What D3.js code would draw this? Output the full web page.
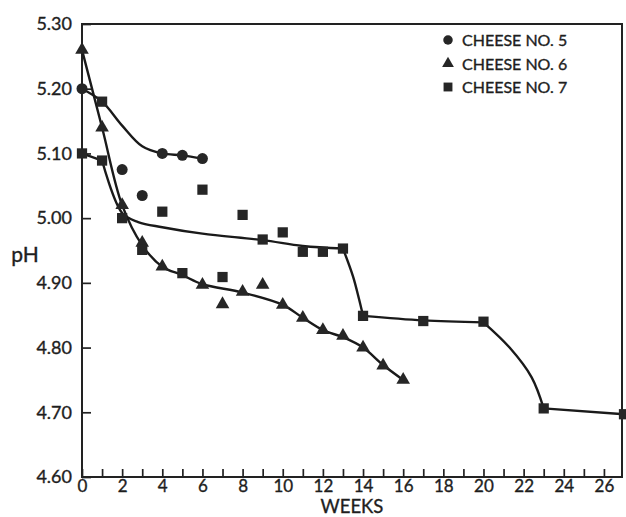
<!DOCTYPE html>
<html>
<head>
<meta charset="utf-8">
<script src="https://cdn.jsdelivr.net/npm/d3@7"></script>
<style>
  body { margin: 0; background: #fff; }
  text { font-family: Lato, "DejaVu Sans", sans-serif; fill: #1e1e1e; stroke: #1e1e1e; stroke-width: 0.35px; }
</style>
</head>
<body>
<script>
// weeks on x, pH on y
const weekTicks = d3.range(0, 27);
const phTicks = [4.60, 4.70, 4.80, 4.90, 5.00, 5.10, 5.20, 5.30];

// measured points
const cheese5 = [[0, 5.20], [2, 5.075], [3, 5.035], [4, 5.10], [5, 5.097], [6, 5.092]];
const cheese6 = [
  [0, 5.26], [1, 5.14], [2, 5.02], [3, 4.962], [4, 4.925], [6, 4.897], [7, 4.867],
  [8, 4.886], [9, 4.897], [10, 4.866], [11, 4.846], [12, 4.827], [13, 4.818],
  [14, 4.80], [15, 4.772], [16, 4.75]
];
const cheese7 = [
  [0, 5.10], [1, 5.18], [1, 5.089], [2, 5.00], [3, 4.951], [4, 5.01], [5, 4.915],
  [6, 5.044], [7, 4.909], [8, 5.005], [9, 4.967], [10, 4.978], [11, 4.948],
  [12, 4.948], [13, 4.953], [14, 4.849], [17, 4.841], [20, 4.84], [23, 4.706], [27, 4.697]
];

// hand drawn curves
const curve5 = [[0, 5.20], [1, 5.18], [2, 5.143], [3, 5.111], [4, 5.10], [5, 5.097], [6, 5.092]];
const curve6 = [
  [0, 5.26], [1, 5.14], [2, 5.02], [3, 4.958], [4, 4.925], [5, 4.912], [6, 4.898],
  [8, 4.885], [10, 4.866], [11, 4.846], [12, 4.827], [13, 4.816], [14, 4.80],
  [15, 4.773], [16, 4.75]
];
const curve7a = [[0, 5.10], [1, 5.089]];
const curve7b = [[1, 5.089], [2, 5.008], [2.8, 4.994], [4, 4.986], [6, 4.976], [9, 4.966], [11, 4.957], [13, 4.953]];
const curve7c = [[13, 4.953], [13.5, 4.91], [13.8, 4.875], [14, 4.849]];
const curve7d = [[14, 4.849], [17, 4.842], [20, 4.839]];
const curve7e = [[20, 4.839], [21.3, 4.80], [22.4, 4.754], [23, 4.706]];
const curve7f = [[23, 4.706], [27, 4.697]];

const legendNames = ["CHEESE NO. 5", "CHEESE NO. 6", "CHEESE NO. 7"];

let w = 626;
let h = 517;
let padLeft = 82, padRight = 624, padTop = 24, padBottom = 477;
const ink = "#222";

const svg = d3.select("body")
  .append("svg")
  .attr("width", w)
  .attr("height", h);

const xScale = d3.scaleLinear().domain([0, 27]).range([padLeft, padRight]);
const yScale = d3.scaleLinear().domain([4.6, 5.3]).range([padBottom, padTop]);

// frame
svg.append("rect")
  .attr("x", padLeft)
  .attr("y", padTop)
  .attr("width", 622 - padLeft)
  .attr("height", padBottom - padTop)
  .attr("fill", "none")
  .attr("stroke", ink)
  .attr("stroke-width", 2);

const yAxis = d3.axisLeft(yScale)
  .tickValues(phTicks)
  .tickSizeInner(-9)
  .tickSizeOuter(0)
  .tickPadding(10)
  .tickFormat(d3.format(".2f"));

const xAxis = d3.axisBottom(xScale)
  .tickValues(weekTicks)
  .tickSizeInner(-8)
  .tickSizeOuter(0)
  .tickPadding(2.5)
  .tickFormat(function(d) { return d % 2 === 0 ? d : ""; });

const gy = svg.append("g")
  .attr("transform", "translate(" + padLeft + ",0)")
  .call(yAxis);
gy.select(".domain").remove();
gy.selectAll("line").attr("stroke", ink).attr("stroke-width", 1.7);
gy.selectAll("text").style("font-size", "18px").attr("fill", ink);

const gx = svg.append("g")
  .attr("transform", "translate(0," + padBottom + ")")
  .call(xAxis);
gx.select(".domain").remove();
gx.selectAll("line").attr("stroke", ink).attr("stroke-width", 1.7);
gx.selectAll("text").style("font-size", "17px").attr("fill", ink);

svg.append("text")
  .attr("x", 352)
  .attr("y", 513)
  .attr("text-anchor", "middle")
  .style("font-size", "18.5px")
  .text("WEEKS");

svg.append("text")
  .attr("x", 25)
  .attr("y", 262)
  .attr("text-anchor", "middle")
  .style("font-size", "21px")
  .text("pH");

// curves
const line = d3.line()
  .x(function(d) { return xScale(d[0]); })
  .y(function(d) { return yScale(d[1]); })
  .curve(d3.curveCatmullRom.alpha(0.5));

[curve5, curve6, curve7a, curve7b, curve7c, curve7d, curve7e, curve7f].forEach(function(c) {
  svg.append("path")
    .attr("d", line(c))
    .attr("fill", "none")
    .attr("stroke", "#1a1a1a")
    .attr("stroke-width", 2.4);
});

// markers
const shapes = [
  { data: cheese5, type: d3.symbolCircle, size: 95 },
  { data: cheese6, type: d3.symbolTriangle, size: 80 },
  { data: cheese7, type: d3.symbolSquare, size: 105 }
];

shapes.forEach(function(s) {
  svg.append("g")
    .selectAll("path")
    .data(s.data)
    .enter()
    .append("path")
    .attr("d", d3.symbol().type(s.type).size(s.size))
    .attr("transform", function(d) {
      return "translate(" + xScale(d[0]) + "," + yScale(d[1]) + ")";
    })
    .attr("fill", "#262626");
});

// legend
const legend = svg.append("g").attr("transform", "translate(448,40)");
legendNames.forEach(function(name, i) {
  const row = legend.append("g").attr("transform", "translate(0," + (i * 23.5) + ")");
  row.append("path")
    .attr("d", d3.symbol().type(shapes[i].type).size(shapes[i].size * 0.75))
    .attr("fill", "#262626");
  row.append("text")
    .attr("x", 14)
    .attr("y", 6)
    .style("font-size", "16px")
    .text(name);
});
</script>
</body>
</html>
